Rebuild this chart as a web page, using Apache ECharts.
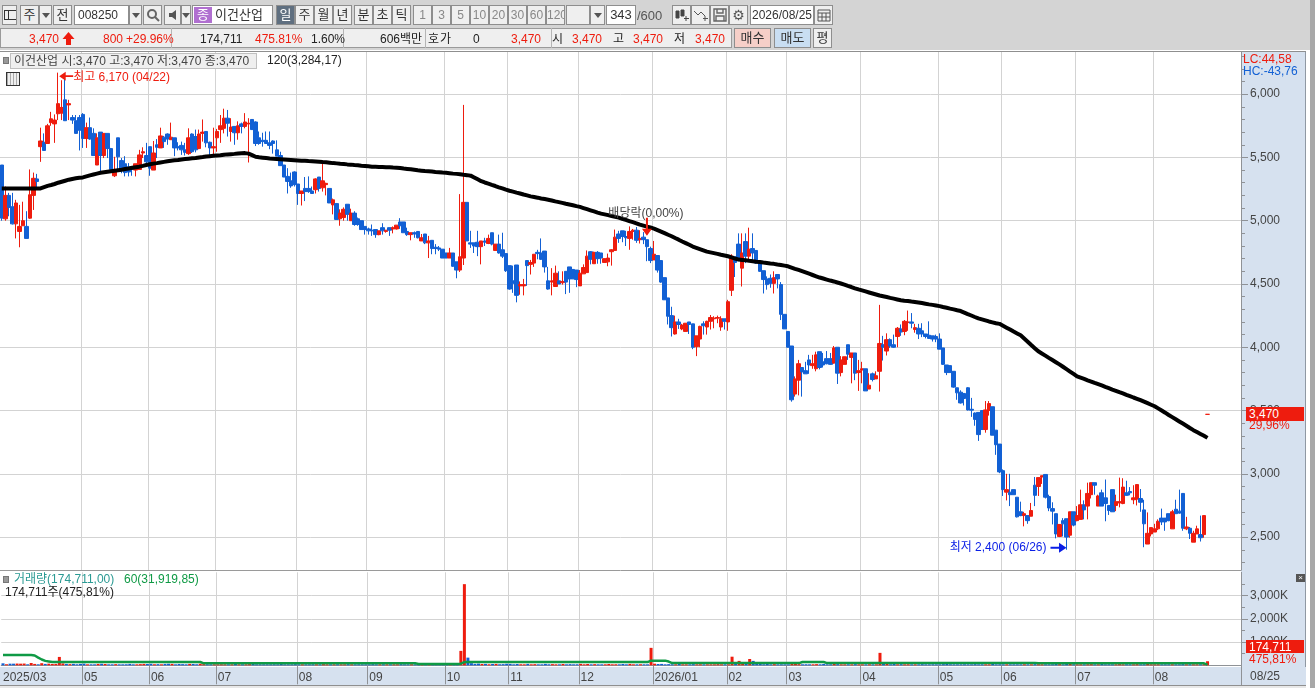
<!DOCTYPE html>
<html lang="ko">
<head>
<meta charset="utf-8">
<title>이건산업 일봉</title>
<script src="https://cdn.jsdelivr.net/npm/echarts@6/dist/echarts.min.js"></script>
<style>
html,body{margin:0;padding:0;width:1315px;height:688px;overflow:hidden;background:#fff;font:12px "Liberation Sans","Noto Sans CJK KR",sans-serif;color:#222}
#chart{position:absolute;left:0;top:0;width:1315px;height:688px;z-index:2}
.bg{position:absolute;z-index:1}
.ov{position:absolute;z-index:3;white-space:nowrap;line-height:14px}
.btn{position:absolute;z-index:4;box-sizing:border-box;height:20px;top:5px;border:1px solid #8e8e8e;background:#efefef;text-align:center;line-height:18px;font-size:13px;color:#333;white-space:nowrap;overflow:hidden}
.w{background:#fff}
.dim{color:#888;font-size:12px}
.r2{position:absolute;z-index:4;top:32px;line-height:14px;white-space:nowrap;font-size:12px}
.red{color:#ee1c0e}
.tri{position:absolute;left:50%;top:50%;margin:-2px 0 0 -4px;border:4px solid transparent;border-top:5px solid #555;border-bottom:0}
</style>
</head>
<body>
<div class="bg" style="left:0;top:0;width:1315px;height:50px;background:#d4d4d4"></div>
<div class="bg" style="left:1310px;top:0;width:5px;height:688px;background:#a8a8a8"></div>
<div class="bg" style="left:0;top:28px;width:732px;height:20px;background:#efefef;border:1px solid #9a9a9a;box-sizing:border-box"></div>
<div class="bg" style="left:0;top:50px;width:1310px;height:1px;background:#fff"></div>
<div class="bg" style="left:0;top:51px;width:1306px;height:1px;background:#8f8f8f"></div>
<div class="bg" style="left:1241px;top:52px;width:65px;height:633px;background:#d6e1ef;border-right:1px solid #8f98a3;box-sizing:border-box"></div>
<div class="bg" style="left:0;top:667px;width:1306px;height:18px;background:#d6e1ef"></div>
<div class="bg" style="left:0;top:685px;width:1306px;height:3px;background:#e8e8e8;border-top:1px solid #8f8f8f;box-sizing:border-box"></div>
<div id="chart"></div>
<div id="chrome"></div>
<script>
// ---------- data ----------
const monthTicks = {0:'2025/03',23:'05',42:'06',61:'07',84:'08',104:'09',126:'10',144:'11',164:'12',185:'2026/01',206:'02',223:'03',244:'04',266:'05',284:'06',305:'07',327:'08'};
const slotCount = 352;
const priceTicks = [2500,3000,3500,4000,4500,5000,5500,6000];
const priceMinorTicks = [2300,2400,2600,2700,2800,2900,3100,3200,3300,3400,3600,3700,3800,3900,4100,4200,4300,4400,4600,4700,4800,4900,5100,5200,5300,5400,5600,5700,5800,5900,6100,6200,6300];
const volumeTicks = [1000,2000,3000];
const volumeMinorTicks = [500,1500,2500,3500];

const opens = [
5440,5015,5200,5110,4975,4915,4960,4955,5020,5200,
5330,5585,5620,5610,5775,5765,5845,5850,5955,5915,
5815,5790,5815,5840,5650,5735,5690,5440,5700,5515,
5690,5570,5355,5655,5475,5450,5425,5425,5400,5405,
5535,5515,5585,5400,5600,5575,5660,5685,5640,5655,
5585,5595,5560,5530,5685,5665,5570,5690,5705,5620,
5575,5655,5720,5730,5810,5705,5745,5695,5765,5745,
5765,5800,5780,5655,5635,5635,5615,5630,5560,5515,
5440,5350,5315,5385,5290,5215,5255,5255,5235,5245,
5345,5260,5285,5255,5125,5135,5015,5025,5130,5000,
5060,5015,5000,4955,4935,4925,4930,4890,4945,4915,
4945,4935,4935,4990,4990,4915,4890,4905,4915,4840,
4895,4825,4845,4790,4785,4775,4745,4705,4745,4675,
4610,4705,5145,4825,4825,4830,4795,4840,4820,4905,
4765,4815,4770,4740,4645,4525,4650,4485,4485,4685,
4655,4665,4750,4745,4760,4525,4515,4480,4525,4510,
4600,4635,4615,4610,4485,4580,4590,4755,4660,4750,
4745,4670,4675,4755,4765,4895,4920,4875,4860,4915,
4925,4850,4870,4850,4780,4690,4725,4685,4550,4390,
4250,4105,4200,4145,4125,4200,4185,4005,4065,4185,
4160,4205,4225,4230,4160,4225,4200,4450,4715,4815,
4625,4835,4720,4780,4765,4680,4605,4540,4545,4505,
4575,4495,4260,4125,4010,3630,3740,3840,3815,3900,
3855,3830,3965,3885,3910,3910,3875,4000,3800,3865,
4020,3920,3955,3800,3820,3830,3670,3790,3750,3810,
4020,3970,4060,4020,4085,4145,4125,4195,4200,4140,
4150,4130,4105,4095,4090,4085,4065,3995,3860,3855,
3810,3680,3645,3635,3680,3510,3480,3485,3500,3350,
3500,3530,3345,3235,3025,2855,2855,2875,2815,2700,
2670,2670,2665,2910,2900,2975,2995,2820,2725,2685,
2505,2630,2645,2515,2700,2630,2640,2755,2745,2835,
2930,2745,2850,2810,2750,2875,2750,2770,2765,2850,
2860,2795,2800,2805,2715,2445,2525,2540,2565,2650,
2650,2685,2565,2720,2705,2845,2565,2570,2460,2525,
2520,2520,3470];
const closes = [
5020,5200,5105,4975,5140,4955,5000,4860,5205,5335,
5310,5630,5555,5750,5805,5795,5925,5895,5790,5925,
5795,5690,5715,5650,5735,5645,5515,5655,5515,5690,
5570,5405,5405,5505,5400,5380,5385,5405,5450,5520,
5545,5465,5415,5535,5580,5670,5625,5645,5660,5575,
5575,5560,5540,5655,5545,5560,5685,5700,5615,5575,
5585,5705,5750,5810,5770,5740,5695,5750,5745,5780,
5770,5720,5610,5610,5625,5610,5595,5610,5510,5435,
5345,5310,5275,5285,5215,5235,5230,5230,5215,5330,
5255,5315,5295,5140,5165,5010,5060,5090,5050,5060,
4970,4970,4930,4930,4920,4920,4890,4920,4920,4925,
4925,4945,4965,4960,4905,4890,4905,4895,4865,4865,
4825,4840,4780,4780,4775,4705,4705,4745,4640,4610,
4715,5145,4840,4815,4800,4795,4840,4830,4860,4815,
4815,4745,4720,4605,4460,4505,4410,4495,4495,4645,
4670,4735,4740,4695,4635,4460,4525,4585,4500,4520,
4515,4540,4540,4535,4585,4630,4720,4695,4750,4700,
4705,4700,4705,4770,4870,4860,4875,4865,4915,4925,
4845,4860,4850,4795,4685,4735,4610,4515,4375,4245,
4155,4200,4180,4175,4190,4180,4000,4090,4165,4170,
4205,4235,4230,4235,4225,4205,4360,4720,4670,4685,
4745,4720,4775,4745,4665,4600,4535,4495,4505,4550,
4540,4260,4145,4000,3585,3750,3870,3805,3790,3860,
3870,3940,3840,3860,3870,3865,3995,3795,3900,3925,
3945,3955,3795,3815,3830,3655,3700,3745,3775,4030,
4000,4060,4010,4000,4150,4120,4205,4200,4190,4155,
4105,4105,4085,4070,4065,4065,3985,3865,3800,3800,
3685,3640,3560,3595,3505,3503,3430,3310,3350,3505,
3555,3305,3230,3015,2875,2875,2835,2835,2660,2670,
2685,2630,2710,2830,2970,2985,2815,2730,2705,2525,
2600,2605,2500,2700,2595,2670,2755,2715,2845,2930,
2910,2825,2745,2765,2710,2700,2780,2780,2895,2830,
2850,2810,2915,2775,2605,2530,2575,2565,2625,2620,
2620,2630,2700,2685,2690,2570,2580,2530,2530,2565,
2495,2670,3470];
const lows = [
5000,5000,5035,4970,4860,4790,4960,4860,5015,5085,
5245,5465,5555,5610,5750,5615,5795,5795,5790,5795,
5765,5690,5555,5575,5575,5640,5515,5440,5380,5495,
5495,5405,5345,5405,5375,5350,5350,5355,5350,5405,
5495,5455,5355,5400,5495,5575,5575,5600,5640,5510,
5555,5520,5515,5520,5535,5540,5565,5625,5580,5510,
5510,5545,5615,5690,5665,5625,5600,5640,5690,5730,
5460,5720,5590,5600,5585,5610,5565,5530,5510,5435,
5345,5215,5260,5270,5125,5120,5155,5220,5215,5215,
5230,5230,5200,5140,5050,5010,4960,5000,5000,5000,
4960,4960,4930,4890,4890,4880,4865,4885,4890,4905,
4880,4900,4930,4935,4905,4880,4845,4865,4860,4840,
4815,4705,4735,4735,4760,4705,4705,4705,4635,4545,
4595,4650,4840,4785,4745,4720,4655,4800,4815,4805,
4765,4740,4705,4595,4455,4430,4355,4415,4410,4485,
4575,4635,4695,4690,4590,4455,4410,4480,4500,4495,
4420,4430,4540,4475,4485,4580,4590,4655,4660,4660,
4660,4670,4640,4645,4765,4825,4830,4800,4770,4850,
4825,4820,4815,4680,4665,4690,4590,4510,4375,4180,
4085,4100,4145,4135,4125,4105,3985,3930,4000,4100,
4100,4140,4150,4190,4130,4140,4130,4405,4555,4680,
4480,4665,4695,4670,4660,4595,4425,4455,4470,4425,
4465,4215,4145,4000,3570,3610,3620,3610,3790,3790,
3830,3810,3825,3840,3865,3860,3870,3710,3770,3865,
3900,3715,3740,3655,3715,3655,3670,3730,3750,3650,
3895,3935,3995,3995,4000,4090,4095,4130,4150,4115,
4065,4080,4070,4070,4045,4040,3985,3860,3780,3800,
3680,3585,3555,3540,3500,3450,3380,3260,3350,3325,
3460,3305,3150,3005,2825,2790,2745,2835,2655,2665,
2585,2605,2665,2745,2825,2920,2805,2705,2600,2490,
2500,2505,2400,2495,2585,2625,2640,2640,2640,2805,
2835,2745,2745,2625,2675,2700,2705,2735,2760,2825,
2830,2760,2750,2700,2420,2445,2505,2540,2555,2595,
2550,2625,2565,2685,2685,2550,2555,2485,2460,2525,
2465,2495,3470];
const highs = [
5440,5270,5220,5220,5165,5125,5150,5075,5405,5380,
5370,5735,5690,5765,5860,5840,6170,6110,6140,5955,
5835,5835,5835,5850,5775,5815,5730,5690,5700,5690,
5690,5575,5505,5655,5495,5510,5455,5430,5450,5560,
5580,5615,5585,5630,5645,5735,5670,5690,5775,5655,
5620,5625,5615,5730,5690,5720,5720,5800,5705,5625,
5735,5725,5835,5885,5875,5810,5745,5785,5775,5850,
5810,5800,5785,5705,5695,5705,5705,5635,5635,5545,
5440,5415,5380,5390,5290,5235,5345,5350,5270,5335,
5345,5465,5300,5255,5175,5140,5090,5105,5130,5095,
5075,5025,5000,4955,4945,4970,4930,4920,4980,4925,
4945,4955,4965,5020,4990,4945,4905,4915,4915,4895,
4895,4880,4845,4815,4800,4775,4745,4785,4745,4675,
5210,5915,5145,4920,4825,4920,4840,4865,4890,4905,
4815,4890,4905,4740,4645,4645,4650,4520,4540,4685,
4690,4735,4770,4860,4760,4635,4625,4645,4600,4600,
4600,4635,4615,4610,4610,4655,4765,4760,4755,4760,
4745,4700,4740,4775,4930,4920,4920,4920,4955,4935,
4950,4925,4910,4850,4795,4840,4725,4685,4550,4390,
4320,4250,4225,4185,4190,4200,4185,4090,4170,4205,
4210,4255,4245,4250,4245,4225,4375,4735,4715,4900,
4900,4900,4945,4900,4765,4680,4605,4560,4575,4600,
4575,4515,4260,4125,4010,3770,3900,3840,3885,3940,
3940,3965,3965,3955,3970,3955,4010,4000,3930,3925,
4020,3955,3955,3900,3885,3830,3795,3800,3810,4335,
4090,4110,4070,4100,4160,4180,4215,4290,4270,4185,
4185,4190,4105,4205,4090,4100,4110,3995,3860,3855,
3810,3680,3660,3635,3685,3600,3485,3485,3500,3575,
3575,3530,3345,3235,3035,3000,3000,2875,2815,2780,
2700,2670,2770,2975,2970,2985,2995,2835,2775,2685,
2600,2650,2645,2700,2700,2745,2875,2790,2930,2930,
2930,2835,2875,2955,2750,2875,2835,2970,2965,2945,
2895,2910,2915,2880,2795,2695,2575,2605,2640,2725,
2650,2685,2715,2795,2875,2845,2660,2580,2550,2590,
2670,2670,3470];
const ma120 = [
5255,5255,5255,5255,5255,5255,5255,5255,5255,5255,
5255,5255,5265,5275,5282,5290,5300,5308,5316,5324,
5330,5335,5339,5342,5350,5358,5365,5372,5379,5383,
5387,5391,5395,5399,5403,5408,5413,5418,5423,5427,
5433,5440,5446,5451,5455,5460,5465,5470,5474,5477,
5480,5484,5487,5490,5493,5496,5500,5503,5507,5510,
5513,5516,5518,5521,5524,5526,5528,5531,5533,5534,
5530,5518,5505,5501,5498,5495,5492,5490,5488,5486,
5484,5482,5480,5478,5476,5474,5473,5471,5470,5468,
5466,5463,5461,5458,5455,5453,5450,5448,5445,5443,
5440,5438,5435,5433,5430,5427,5426,5425,5424,5423,
5422,5420,5419,5416,5412,5409,5406,5402,5398,5395,
5392,5390,5388,5385,5383,5380,5378,5375,5372,5370,
5367,5363,5360,5356,5342,5327,5312,5302,5293,5283,
5274,5264,5255,5245,5237,5230,5222,5215,5207,5200,
5192,5187,5182,5176,5171,5166,5160,5153,5147,5141,
5134,5128,5122,5115,5109,5100,5091,5082,5073,5064,
5056,5050,5044,5037,5030,5024,5015,5006,4997,4988,
4979,4969,4961,4953,4946,4938,4926,4914,4902,4889,
4877,4863,4850,4836,4823,4810,4796,4786,4776,4766,
4756,4750,4744,4738,4731,4725,4719,4710,4701,4693,
4690,4687,4683,4680,4676,4673,4669,4666,4662,4659,
4654,4650,4645,4640,4630,4620,4611,4601,4591,4581,
4571,4561,4551,4543,4535,4527,4520,4512,4504,4495,
4485,4476,4466,4457,4449,4441,4433,4425,4417,4409,
4403,4397,4390,4384,4378,4372,4368,4365,4361,4358,
4354,4349,4344,4339,4335,4330,4325,4318,4312,4305,
4299,4292,4286,4274,4262,4251,4239,4228,4220,4212,
4204,4197,4190,4185,4170,4155,4140,4124,4109,4094,
4069,4044,4018,3993,3968,3951,3934,3916,3899,3882,
3865,3846,3827,3808,3789,3770,3760,3750,3739,3729,
3718,3708,3698,3687,3677,3666,3656,3645,3635,3624,
3614,3603,3593,3582,3570,3558,3546,3534,3517,3500,
3483,3465,3448,3431,3414,3397,3380,3362,3345,3330,
3315,3300,3284];
// volume, in thousands of shares
const volumes = [
85,45,70,70,75,70,75,40,100,60,
35,90,60,70,55,60,360,80,60,50,
60,45,60,70,40,25,30,60,65,55,
25,40,50,30,20,45,60,30,25,50,
60,55,65,45,50,30,60,65,60,40,
55,50,35,60,55,45,65,50,45,40,
20,35,45,30,25,40,55,30,20,35,
50,60,35,25,40,20,30,45,30,55,
40,25,30,50,20,40,35,25,45,30,
20,50,40,30,25,45,20,35,50,25,
30,45,20,35,25,50,30,20,45,35,
25,40,20,50,30,25,45,20,35,40,
25,45,30,20,35,50,45,30,25,40,
620,3490,330,90,60,70,55,60,45,55,
60,45,50,65,60,40,55,45,30,60,
40,50,35,30,60,45,50,40,30,55,
35,50,25,45,60,40,55,35,50,30,
25,40,55,35,45,30,55,40,60,35,
25,45,30,40,750,70,55,60,40,50,
45,30,55,25,40,35,50,30,45,25,
40,30,35,50,25,45,30,370,140,190,
80,60,270,190,70,60,45,55,40,50,
35,45,30,40,140,60,50,35,45,30,
40,50,35,55,30,45,70,50,35,30,
45,25,50,35,40,30,45,25,35,535,
70,55,45,60,35,50,30,45,25,40,
30,50,35,25,45,30,40,50,55,45,
35,40,30,45,25,40,50,30,45,35,
40,55,35,45,30,25,40,30,35,25,
45,30,40,50,45,40,35,30,45,55,
50,40,60,55,45,35,40,30,45,50,
40,35,55,30,45,40,30,50,35,45,
30,40,50,35,45,55,40,35,45,40,
30,35,45,30,40,50,35,45,40,30,
35,50,175];
// volume bars the picture paints red although that day's candle is blue
const redVolumeDays = [184,209,224];
const ma60 = [
440,440,440,440,440,440,440,440,440,420,
330,250,190,165,140,140,140,140,140,140,
140,140,140,140,140,140,140,140,140,140,
140,140,140,140,140,140,140,140,140,140,
140,140,140,140,140,140,140,140,140,140,
140,140,140,140,140,140,140,85,85,85,
85,85,85,85,85,85,85,85,85,85,
85,85,85,85,85,85,85,85,85,85,
85,85,85,85,85,85,85,85,85,85,
85,85,85,85,85,85,85,85,85,85,
85,85,85,85,85,85,85,85,85,85,
85,85,85,85,85,85,85,85,55,55,
55,55,55,55,55,55,55,55,55,55,
70,140,140,140,140,140,140,140,140,140,
140,140,140,140,140,140,140,140,140,140,
140,140,140,140,140,140,140,140,140,140,
140,140,140,140,140,140,140,140,140,140,
140,140,140,140,140,140,140,140,140,140,
140,140,140,140,200,200,200,200,200,160,
95,95,95,95,95,95,95,95,95,95,
95,95,95,95,95,95,95,95,95,95,
95,95,95,95,95,95,95,95,95,95,
95,95,95,95,95,95,95,140,140,140,
140,140,140,140,95,95,95,95,95,95,
95,95,95,95,95,95,95,95,95,95,
95,95,95,95,95,95,95,95,95,95,
95,95,95,95,95,95,95,95,95,95,
95,95,95,95,95,95,95,95,95,95,
95,95,95,95,95,95,95,95,95,95,
95,95,95,95,90,90,90,90,90,90,
90,90,90,90,90,90,90,90,90,90,
90,90,90,90,90,90,90,90,90,90,
90,90,90,90,90,90,90,90,90,90,
85,85,85,85,85,85,85,85,85,85,
85,85,32];

// ---------- chart ----------
const RED='#ee1c0e', BLUE='#1260d4', GRID='#d3d3d3', AX='#8f9296', TXT='#444';
const FONT='"Liberation Sans","Noto Sans CJK KR",sans-serif';
const categories = Array.from({length:slotCount},(_,i)=>monthTicks[i]||'');
const candle = opens.map((o,i)=>[o,closes[i],lows[i],highs[i]]);
const isLabel = (i,v)=>v!=='';
const isLine = (i,v)=>v!=='' && i>0;
const fmt = v=>String(v).replace(/\B(?=(\d{3})+$)/g,',');
const chart = echarts.init(document.getElementById('chart'),null,{renderer:'canvas'});
const gridBox={left:0,width:1241};
chart.setOption({
  animation:false,
  backgroundColor:'transparent',
  textStyle:{fontFamily:FONT,fontSize:12},
  grid:[
    {...gridBox,top:52,height:518},
    {...gridBox,top:572.3,height:93}
  ],
  xAxis:[
    {type:'category',gridIndex:0,data:categories,boundaryGap:true,
     axisLine:{show:true,lineStyle:{color:'#9a9a9a',width:1}},axisTick:{show:false},axisLabel:{show:false},
     splitLine:{show:true,interval:isLine,lineStyle:{color:GRID,width:1}}},
    {type:'category',gridIndex:1,data:categories,boundaryGap:true,
     axisLine:{show:true,lineStyle:{color:AX,width:1}},
     axisTick:{show:true,interval:isLine,length:19,lineStyle:{color:AX,width:1}},
     axisLabel:{show:true,interval:isLabel,align:'left',margin:6,color:TXT,fontSize:12,fontFamily:FONT,hideOverlap:false},
     splitLine:{show:true,interval:isLine,lineStyle:{color:GRID,width:1}}}
  ],
  yAxis:[
    {type:'value',gridIndex:0,position:'right',min:2240,max:6333,scale:true,
     axisLine:{show:true,lineStyle:{color:AX}},
     axisTick:{show:true,length:7,customValues:priceTicks,lineStyle:{color:AX}},
     axisLabel:{show:true,customValues:priceTicks,margin:9,color:TXT,fontSize:12,fontFamily:FONT,formatter:fmt},
     splitLine:{show:true,lineStyle:{color:GRID,width:1}}},
    {type:'value',gridIndex:1,position:'right',min:0,max:4000,
     axisLine:{show:true,lineStyle:{color:AX}},
     axisTick:{show:true,length:7,customValues:volumeTicks,lineStyle:{color:AX}},
     axisLabel:{show:true,customValues:volumeTicks,margin:9,color:TXT,fontSize:12,fontFamily:FONT,formatter:v=>fmt(v)+'K'},
     splitLine:{show:true,lineStyle:{color:GRID,width:1}}},
    {type:'value',gridIndex:0,position:'right',min:2240,max:6333,
     axisLine:{show:false},axisLabel:{show:false},splitLine:{show:false},
     axisTick:{show:true,length:4,customValues:priceMinorTicks,lineStyle:{color:AX}}},
    {type:'value',gridIndex:1,position:'right',min:0,max:4000,
     axisLine:{show:false},axisLabel:{show:false},splitLine:{show:false},
     axisTick:{show:true,length:4,customValues:volumeMinorTicks,lineStyle:{color:AX}}}
  ],
  series:[
    {name:'이건산업',type:'candlestick',xAxisIndex:0,yAxisIndex:0,data:candle,barWidth:4,z:3,
     itemStyle:{color:RED,color0:BLUE,borderColor:RED,borderColor0:BLUE,borderWidth:1},
     markPoint:{
       animation:false,silent:true,
       data:[
         {coord:[16,6170],symbol:'path://M0 5L7 0L7 4L15 4L15 6L7 6L7 10Z',symbolSize:[14,9],symbolOffset:[8,3.5],
          itemStyle:{color:RED},label:{show:true,position:'right',distance:0,offset:[0,2],formatter:'최고 6,170 (04/22)',color:RED,fontSize:12,fontFamily:FONT}},
         {coord:[302,2400],symbol:'path://M15 5L8 0L8 4L0 4L0 6L8 6L8 10Z',symbolSize:[16,10],symbolOffset:[-8,-2],
          itemStyle:{color:'#0a1ee6'},label:{show:true,position:'left',distance:4,formatter:'최저 2,400 (06/26)',color:'#0a1ee6',fontSize:12,fontFamily:FONT}},
         {coord:[183,4850],symbol:'path://M4 0L6 0L6 11L10 11L5 18L0 11L4 11Z',symbolSize:[10,18],symbolOffset:[0,-13],
          itemStyle:{color:RED},label:{show:true,position:'top',distance:0,offset:[-1,2],formatter:'배당락(0,00%)',color:TXT,fontSize:12,fontFamily:FONT}}
       ]
     }},
    {name:'120',type:'line',xAxisIndex:0,yAxisIndex:0,data:ma120,symbol:'none',smooth:false,z:4,
     lineStyle:{color:'#000',width:4},clip:true},
    {name:'거래량',type:'bar',xAxisIndex:1,yAxisIndex:1,barWidth:3,barMinHeight:1,z:3,
     data:volumes.map((v,i)=>({value:v,itemStyle:{color:(closes[i]>=opens[i]||redVolumeDays.includes(i))?RED:BLUE}}))},
    {name:'60',type:'line',xAxisIndex:1,yAxisIndex:1,data:ma60,symbol:'none',z:4,
     lineStyle:{color:'#0f9a45',width:2.5}}
  ]
});

// ---------- window chrome around the chart ----------
const host=document.getElementById('chrome');
const add=(cls,style,text)=>{const d=document.createElement('div');d.className=cls;d.style.cssText=style;if(text!==undefined)d.innerHTML=text;host.appendChild(d);return d;};
const tri='<span class="tri"></span>';
const svg=(p,c='#555')=>`<svg width="16" height="14" viewBox="0 0 16 14" style="margin-top:2px" fill="${c}">${p}</svg>`;
[
 [2,15,svg('<path d="M1 2h13v10H1zM2 3v8h3V3zM6 3v8h7V3z"/>','#333')],[20,19,'주'],[39,13,tri],[53,19,'전'],
 [74,55,'<span style="float:left;padding-left:3px;font-size:12px">008250</span>','w'],[129,13,tri],
 [143,19,svg('<circle cx="7" cy="6" r="4" fill="none" stroke="#666" stroke-width="2"/><path d="M10 9l4 4" stroke="#666" stroke-width="2"/>')],
 [164,17,svg('<path d="M4 5h3l4-3v10l-4-3H4z"/>')],[181,10,tri],
 [192,81,'<span style="float:left;background:#b06fd0;color:#fff;width:18px;margin-left:1px;height:16px;line-height:16px;margin-top:1px">종</span><span style="float:left;margin-left:3px;font-size:13px">이건산업</span>','w'],
 [276,19,'일','act'],[295,19,'주'],[314,19,'월'],[333,19,'년'],[354,19,'분'],[373,19,'초'],[392,19,'틱'],
 [413,19,'1','dim'],[432,19,'3','dim'],[451,19,'5','dim'],[470,19,'10','dim'],[489,19,'20','dim'],[508,19,'30','dim'],[527,19,'60','dim'],[546,19,'120','dim'],
 [566,24,''],[590,15,tri],[606,30,'343','w'],
 [672,19,svg('<path d="M2 3h3v7H2zM7 2h3v6H7zM12 8v5M10 10.5h5" stroke="#444"/>','#444')],
 [691,19,svg('<path d="M1 3l4 4 3-3 4 4M12 8v5M10 10.5h5" fill="none" stroke="#555"/>')],
 [710,19,svg('<path d="M2 1h12v12H2z M5 1v4h6V1 M4 8h8v5H4z" fill="none" stroke="#666" stroke-width="1.4"/>')],
 [729,19,'<span style="font-size:14px;color:#555;font-family:DejaVu Sans">⚙</span>'],
 [750,64,'2026/08/25','w'],
 [814,19,svg('<path d="M2 2h12v11H2z M2 5h12 M6 5v8 M10 5v8 M2 9h12" fill="none" stroke="#555"/>')]
].forEach(([x,w,t,k])=>{
  const d=add('btn'+(k==='w'?' w':'')+(k==='dim'?' dim':''),`left:${x}px;width:${w}px;`+(k==='act'?'background:#5f6f80;color:#fff;':''),t);
  if(k==='w'&&t.startsWith('2026'))d.style.fontSize='12px';
});
add('r2','left:637px;top:9px;color:#555;font-size:13px','/600');
add('bg','left:171px;top:28px;width:1px;height:20px;background:#b5b5b5;z-index:4');
add('bg','left:343px;top:28px;width:1px;height:20px;background:#b5b5b5;z-index:4');
add('bg','left:425px;top:28px;width:1px;height:20px;background:#b5b5b5;z-index:4');
add('bg','left:551px;top:28px;width:1px;height:20px;background:#b5b5b5;z-index:4');
[
 [29,'3,470','red'],[103,'800','red'],[126,'+29.96%','red'],[200,'174,711',''],[255,'475.81%','red'],[311,'1.60%',''],
 [380,'606백만',''],[428,'호',''],[440,'가',''],[473,'0',''],[511,'3,470','red'],[552,'시',''],[572,'3,470','red'],
 [613,'고',''],[633,'3,470','red'],[674,'저',''],[695,'3,470','red']
].forEach(([x,t,c])=>add('r2 '+c,`left:${x}px`,t));
add('r2','left:62px;top:31px;','<svg width="13" height="15" viewBox="0 0 13 15" fill="#ee1c0e"><path d="M6.5 1L12.5 8H9V14H4V8H0.5Z"/></svg>');
[[734,37,'매수','#f6cfc8'],[774,37,'매도','#c9def2'],[813,19,'평','#efefef']].forEach(([x,w,t,b])=>
  add('btn',`left:${x}px;width:${w}px;top:28px;background:${b};`,t));

// legends and tags that sit on top of the chart
add('ov','left:3px;top:57px;width:4px;height:5px;background:#999;border:1px solid #777');
add('ov','left:10px;top:53px;height:14px;line-height:14px;background:#efefef;border:1px solid #c0c0c0;color:#444;padding-left:3px;box-sizing:content-box;width:242px','이건산업 시:3,470 고:3,470 저:3,470 종:3,470');
add('ov','left:267px;top:53px;color:#222','120(3,284,17)');
add('ov','left:6px;top:72px;width:12px;height:12px;border:1px solid #333;background:repeating-linear-gradient(90deg,#aaa 0 1px,#eee 1px 3px)');
add('ov','left:3px;top:576px;width:4px;height:5px;background:#999;border:1px solid #777');
add('ov','left:14px;top:572px;color:#2a9a93','거래량(174,711,00)');
add('ov','left:124px;top:572px;color:#0f9a45','60(31,919,85)');
add('ov','left:5px;top:585px;color:#222','174,711주(475,81%)');
add('ov','left:1243px;top:52px;color:#ee1c0e;font-size:12px','LC:44,58');
add('ov','left:1243px;top:64px;color:#1260d4;font-size:12px','HC:-43,76');
add('ov','left:1246px;top:407px;width:58px;height:14px;background:#ee1c0e;color:#fff;padding-left:3px;box-sizing:border-box','3,470');
add('ov','left:1249px;top:418px;color:#ee1c0e','29,96%');
add('ov','left:1246px;top:640px;width:58px;height:13px;background:#ee1c0e;color:#fff;padding-left:3px;box-sizing:border-box','174,711');
add('ov','left:1249px;top:652px;color:#ee1c0e','475,81%');
add('ov','left:1296px;top:574px;width:9px;height:8px;background:#555;color:#fff;font-size:8px;line-height:8px;text-align:center','×');
add('ov','left:1250px;top:669px;color:#444','08/25');
add('ov','left:1241px;top:667px;width:1px;height:18px;background:#8f9296');
</script>
</body>
</html>
